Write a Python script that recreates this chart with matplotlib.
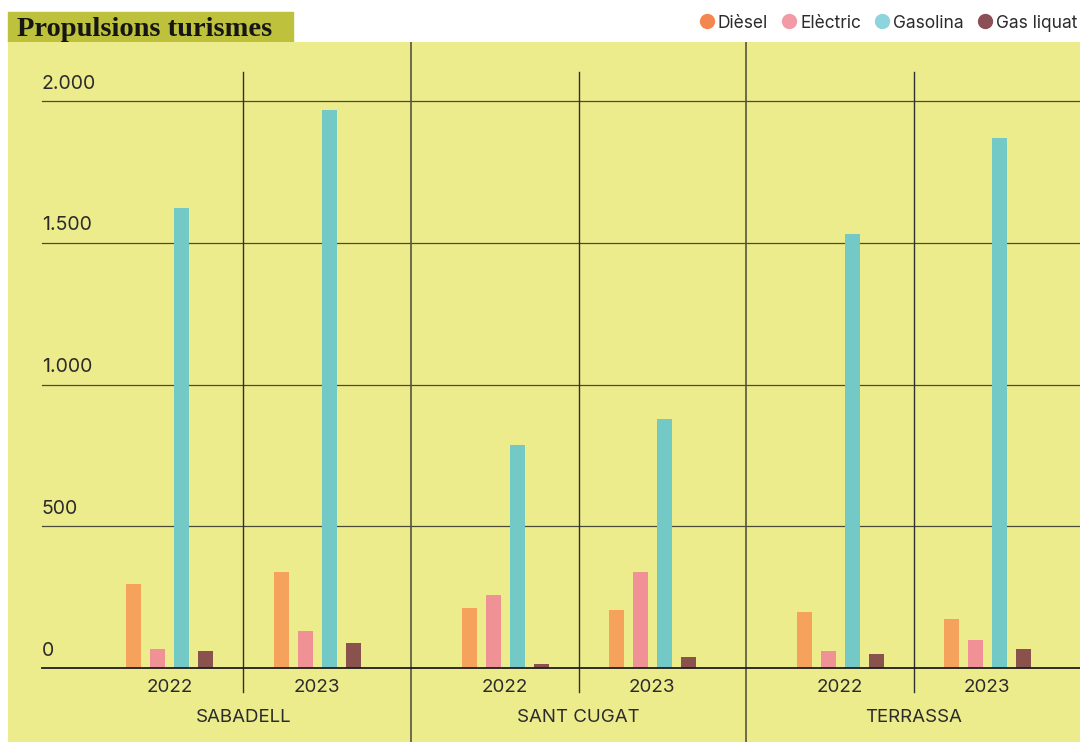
import matplotlib.pyplot as plt
from matplotlib.lines import Line2D
from matplotlib.patches import Rectangle
import numpy as np

# dades
cities = ["SABADELL", "SANT CUGAT", "TERRASSA"]
years = ["2022", "2023"]
fuels = ["Dièsel", "Elèctric", "Gasolina", "Gas liquat"]

diesel = [296, 339, 212, 205, 198, 173]
electric = [67, 130, 258, 339, 60, 99]
gasolina = [1623, 1968, 787, 878, 1531, 1870]
gas_liquat = [60, 88, 14, 39, 49, 67]

bar_colors = ["#F5A25D", "#F09196", "#72C9C5", "#89524C"]
dot_colors = ["#F4874F", "#F49AA6", "#8DD4DE", "#8B4F55"]
yellow = "#EDEC8D"
olive = "#BDC13B"
ink = "#2b2b2b"

W, H = 1080, 742
fig = plt.figure(figsize=(W / 100, H / 100), dpi=100)
fig.patch.set_facecolor("white")

# caixa del títol
fig.add_artist(Rectangle((8 / W, 1 - 42 / H), 285 / W, 30 / H,
                         transform=fig.transFigure, color=olive, zorder=0))
fig.text(17 / W, 1 - 29 / H, "Propulsions turismes", fontsize=20.5,
         family="Liberation Serif", weight="bold", color="#151515",
         va="center", ha="left")

# eixos sobre el panell groc
ax = fig.add_axes([8 / W, 0, 1 - 8 / W, 700 / H])
ax.set_facecolor(yellow)
for s in ax.spines.values():
    s.set_visible(False)
ax.set_xticks([])
ax.set_yticks([])

city_step = 335 / 147
ax.set_xlim((8 - 170) / 147, (1080 - 170) / 147)
ax.set_ylim((668 - 742) / 0.2835, (668 - 42) / 0.2835)

centers = np.array([c * city_step + j for c in range(len(cities)) for j in range(len(years))])
series = [diesel, electric, gasolina, gas_liquat]
offsets = (np.arange(4) - 1.5) * 24 / 147
for k, vals in enumerate(series):
    ax.bar(centers + offsets[k], vals, width=15 / 147, color=bar_colors[k],
           zorder=3, label=fuels[k])

# línies horitzontals i etiquetes de l'eix y
x_left = (42 - 170) / 147
grid_start = (42 - 8) / (W - 8)
for v in [0, 500, 1000, 1500, 2000]:
    ax.axhline(v, xmin=grid_start, xmax=1, color="#1e1e1e" if v == 0 else "#4a4a3a",
               lw=1.3 if v == 0 else 0.9, zorder=4 if v == 0 else 1)
    ax.annotate(f"{v:,}".replace(",", "."), (x_left, v), xytext=(0, 6),
                textcoords="offset points", fontsize=14, family="Inter",
                color=ink, ha="left", va="bottom")

# separadors verticals
for c in range(len(cities)):
    mid = c * city_step + 0.5
    ax.axvline(mid, ymin=(742 - 692) / 700, ymax=(742 - 72) / 700,
               color="#2f2f2f", lw=1, zorder=2)
    if c > 0:
        ax.axvline(c * city_step - (city_step - 1) / 2, ymin=0, ymax=1,
                   color="#55553f", lw=1.2, zorder=2)

# etiquetes d'anys i ciutats
y_year = (668 - 687) / 0.2835
y_city = (668 - 717) / 0.2835
for i, cx in enumerate(centers):
    ax.text(cx, y_year, years[i % 2], fontsize=13.5, family="Inter", color=ink,
            ha="center", va="center")
for c, name in enumerate(cities):
    ax.text(c * city_step + 0.5, y_city, name, fontsize=13.5, family="Inter",
            color=ink, ha="center", va="center")

# llegenda
handles = [Line2D([], [], marker="o", ls="", markersize=10, color=dot_colors[k],
                  label=fuels[k]) for k in range(4)]
fig.legend(handles=handles, loc="center right",
           bbox_to_anchor=(1093 / W, 1 - 23 / H), ncol=4, frameon=False,
           handletextpad=0.15, columnspacing=0.7, handlelength=1.0,
           prop={"family": "Inter", "size": 12.5}, labelcolor=ink)

fig.savefig("out.png", dpi=100, facecolor="white")
